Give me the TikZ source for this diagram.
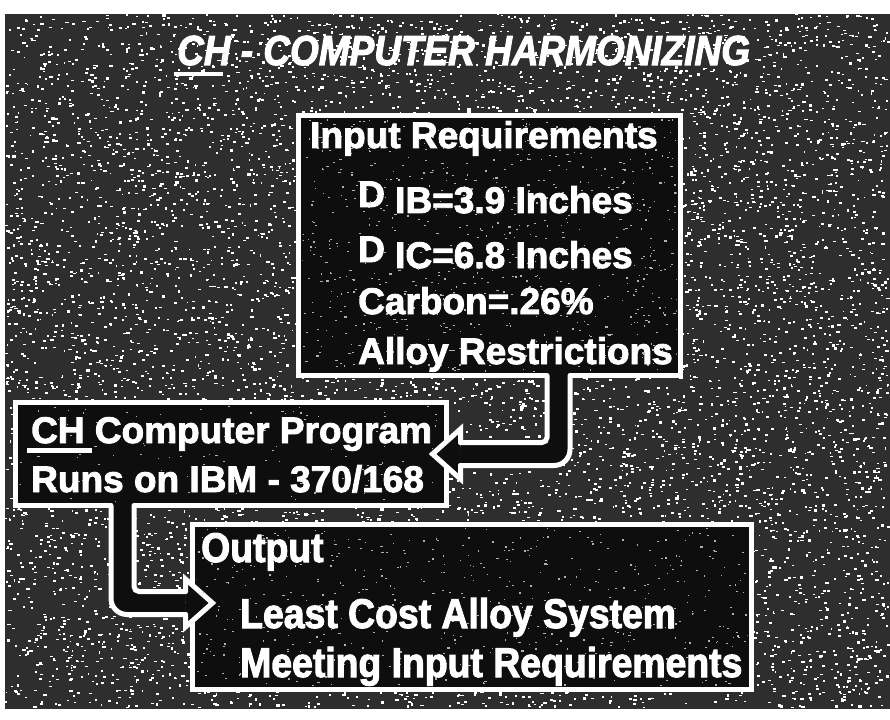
\documentclass[tikz,border=0pt]{standalone}
\usepackage{fontspec}
\setmainfont[FakeBold=2.4]{Liberation Sans}
\newfontfamily\titlefont[FakeStretch=0.88,FakeBold=2.4]{Liberation Sans}
\newfontfamily\outfont[FakeStretch=0.9,FakeBold=2.4]{Liberation Sans}
\usetikzlibrary{calc,positioning}
\definecolor{grain}{RGB}{46,46,46}
\definecolor{boxfill}{RGB}{14,14,14}
% thick bar under a word: kern, extra width, raise, thickness, text
\newcommand{\barunder}[5]{\leavevmode\setbox0=\hbox{#5}\rlap{\kern#1\rule[#3]{\dimexpr\wd0+#2\relax}{#4}}\box0\relax}

\begin{document}
\begin{tikzpicture}[x=1pt,y=-1pt,
  panel/.style={draw=white,line width=5pt,fill=boxfill,inner sep=0pt,outer sep=0pt},
  inktext/.style={text=white,inner sep=0pt,anchor=base west},
  hollow/.style={draw=white,line width=5pt,line cap=round,line join=miter}]
\useasboundingbox (0,0) rectangle (890,719);
\fill[white] (0,0) rectangle (890,719);
\fill[grain] (5,14) rectangle (890,709);
\pgfmathsetseed{37}
\foreach \k in {1,...,9000}
  \fill[white] ({5+882*rnd},{14+693*rnd}) rectangle ++({1.5+2*rnd},{1+1.5*rnd});

% boxes
\node[panel,minimum width=382pt,minimum height=260pt] (input) at (489.5,245.5) {};
\node[panel,minimum width=431pt,minimum height=103pt] (chprog) at (231,454) {};
\node[panel,minimum width=559pt,minimum height=165pt] (output) at (472,607) {};

% input -> program
\coordinate (s1) at ($(input.south east)+(-122,0)$);
\coordinate (t1) at ($(chprog.east)+(-14,0)$);
\coordinate (e1) at (s1 |- t1);
\draw[boxfill,line width=23pt,rounded corners=10pt] ($(s1)+(0,-2.5)$) -- (e1) -- ($(t1)+(28,0)$);
\fill[boxfill] (t1) -- ($(t1)+(28,-25)$) -- ($(t1)+(28,25)$) -- cycle;
\draw[hollow,rounded corners=5pt] ($(s1)+(-11.5,0)$) -- ($(e1)+(-11.5,-11.5)$) -- ($(t1)+(28,-11.5)$);
\draw[hollow,rounded corners=16pt] ($(s1)+(11.5,0)$) -- ($(e1)+(11.5,11.5)$) -- ($(t1)+(28,11.5)$);
\draw[hollow] ($(t1)+(28,-11.5)$) -- ($(t1)+(28,-25)$) -- (t1) -- ($(t1)+(28,25)$) -- ($(t1)+(28,11.5)$);

% program -> output
\coordinate (s2) at ($(chprog.south west)+(107,0)$);
\coordinate (t2) at ($(output.west)+(20,-4)$);
\coordinate (e2) at (s2 |- t2);
\draw[boxfill,line width=23pt,rounded corners=10pt] ($(s2)+(0,-2.5)$) -- (e2) -- ($(t2)+(-27,0)$);
\fill[boxfill] (t2) -- ($(t2)+(-27,-24)$) -- ($(t2)+(-27,24)$) -- cycle;
\draw[hollow,rounded corners=16pt] ($(s2)+(-11.5,0)$) -- ($(e2)+(-11.5,11.5)$) -- ($(t2)+(-27,11.5)$);
\draw[hollow,rounded corners=5pt] ($(s2)+(11.5,0)$) -- ($(e2)+(11.5,-11.5)$) -- ($(t2)+(-27,-11.5)$);
\draw[hollow] ($(t2)+(-27,-11.5)$) -- ($(t2)+(-27,-24)$) -- (t2) -- ($(t2)+(-27,24)$) -- ($(t2)+(-27,11.5)$);

% faint grain inside the boxes
\foreach \bx/\num in {input/900,chprog/350,output/1000}{
  \begin{scope}
  \clip ($(\bx.south west)+(4,-4)$) rectangle ($(\bx.north east)+(-4,4)$);
  \foreach \k in {1,...,\num}
    \fill[white!70!black] ($(\bx.north west)!{rnd}!(\bx.north east)+(0,{rnd*280})$) rectangle ++({1+1.5*rnd},1.2);
  \end{scope}
}

% texts
\node[inktext,font=\titlefont\fontsize{42}{46}\selectfont\bfseries\itshape] (title) at (177,65)
  {\barunder{-3pt}{-5pt}{-11pt}{4pt}{CH} - COMPUTER HARMONIZING};
\begin{scope}[every node/.append style={font=\fontsize{37}{40}\selectfont\bfseries}]
\node[inktext] (inhead) at (310,148) {Input Requirements};
\node[inktext] (dib) at (358,213) {\raisebox{6pt}{D} IB=3.9 Inches};
\node[inktext] (dic) at (358,268) {\raisebox{6pt}{D} IC=6.8 Inches};
\node[inktext] (carbon) at (358,314) {Carbon=.26\%};
\node[inktext] (alloy) at (358,364) {Alloy Restrictions};
\end{scope}
\begin{scope}[every node/.append style={font=\fontsize{37}{40}\selectfont\bfseries}]
\node[inktext] (chline) at (31,443) {\barunder{-4pt}{11pt}{-10pt}{5pt}{CH} Computer Program};
\node[inktext] (runs) at (31,492) {Runs on IBM - 370/168};
\end{scope}
\begin{scope}[every node/.append style={font=\outfont\fontsize{41.5}{44}\selectfont\bfseries}]
\node[inktext] (outhead) at (201,562) {Output};
\node[inktext] (least) at (240,628) {Least Cost Alloy System};
\node[inktext] (meeting) at (240,677) {Meeting Input Requirements};
\end{scope}
\end{tikzpicture}
\end{document}
